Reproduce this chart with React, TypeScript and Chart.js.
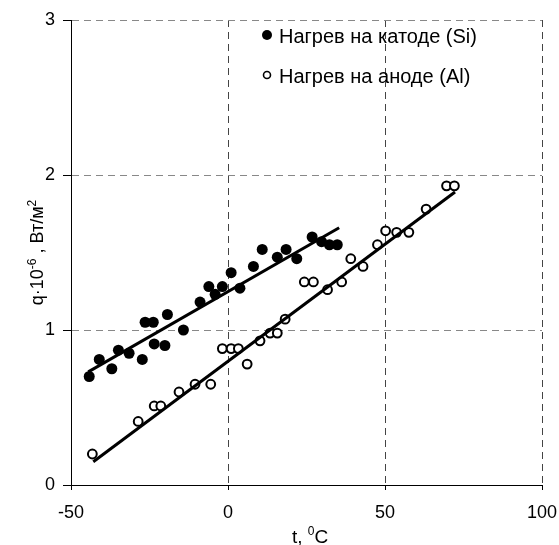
import React, { useEffect, useRef } from "react";
import { Chart, registerables } from "chart.js";

Chart.register(...registerables);

// Нагрев на катоде (Si) — filled points
const siT = [-44.2, -41.0, -37.0, -34.9, -31.5, -27.3, -26.4, -23.8, -23.5, -20.1, -19.3, -14.2, -8.9, -6.1, -4.1, -1.8, 1.0, 3.8, 8.1, 10.9, 15.7, 18.5, 21.9, 26.8, 29.8, 32.3, 34.8];
const siQ = [0.70, 0.81, 0.75, 0.87, 0.85, 0.81, 1.05, 1.05, 0.91, 0.90, 1.10, 1.00, 1.18, 1.28, 1.23, 1.28, 1.37, 1.27, 1.41, 1.52, 1.47, 1.52, 1.46, 1.60, 1.57, 1.55, 1.55];

// Нагрев на аноде (Al) — hollow points
const alT = [-43.2, -28.6, -23.5, -21.4, -15.6, -10.5, -5.5, -1.8, 1.0, 3.3, 6.1, 10.2, 13.4, 15.7, 18.2, 24.3, 27.2, 31.7, 36.2, 39.1, 43.0, 47.6, 50.2, 53.7, 57.6, 63.1, 69.6, 72.1];
const alQ = [0.20, 0.41, 0.51, 0.51, 0.60, 0.65, 0.65, 0.88, 0.88, 0.88, 0.78, 0.93, 0.98, 0.98, 1.07, 1.31, 1.31, 1.26, 1.31, 1.46, 1.41, 1.55, 1.64, 1.63, 1.63, 1.78, 1.93, 1.93];

// Linear trend lines (end points)
const siFitT = [-44.5, 35.4];
const siFitQ = [0.73, 1.66];
const alFitT = [-42.9, 72.3];
const alFitQ = [0.15, 1.89];

const xTicks = [-50, 0, 50, 100];
const yTicks = [0, 1, 2, 3];
const legendLabels = ["Нагрев на катоде (Si)", "Нагрев на аноде (Al)"];

const FONT = "'Liberation Sans', Arial, sans-serif";

const pts = (xs: number[], ys: number[]) => xs.map((x, i) => ({ x, y: ys[i] }));

function drawParts(ctx: CanvasRenderingContext2D, parts: { t: string; sup?: boolean }[], size: number, supSize: number, supRise: number, cx: number, baseline: number) {
  const widths = parts.map((p) => {
    ctx.font = `${p.sup ? supSize : size}px ${FONT}`;
    return ctx.measureText(p.t).width;
  });
  const total = widths.reduce((a, b) => a + b, 0);
  let x = cx - total / 2;
  parts.forEach((p, i) => {
    ctx.font = `${p.sup ? supSize : size}px ${FONT}`;
    ctx.fillText(p.t, x, p.sup ? baseline - supRise : baseline);
    x += widths[i];
  });
}

const annotations = {
  id: "annotations",
  afterDraw(chart: any) {
    const ctx: CanvasRenderingContext2D = chart.ctx;
    const area = chart.chartArea;
    ctx.save();
    ctx.fillStyle = "#000";
    ctx.textAlign = "left";
    ctx.textBaseline = "alphabetic";

    // x title
    drawParts(ctx, [{ t: "t, " }, { t: "0", sup: true }, { t: "C" }], 19, 12, 8, 310, 543);

    // y title
    ctx.save();
    ctx.translate(43, (area.top + area.bottom) / 2);
    ctx.rotate(-Math.PI / 2);
    drawParts(ctx, [{ t: "q·10" }, { t: "-6", sup: true }, { t: " , Вт/м" }, { t: "2", sup: true }], 18, 12, 7, 0, 0);
    ctx.restore();

    // legend
    ctx.font = `20px ${FONT}`;
    ctx.beginPath();
    ctx.arc(267, 35, 5, 0, Math.PI * 2);
    ctx.fill();
    ctx.fillText(legendLabels[0], 279, 43);
    ctx.beginPath();
    ctx.arc(267, 75, 3.5, 0, Math.PI * 2);
    ctx.lineWidth = 1.6;
    ctx.strokeStyle = "#000";
    ctx.stroke();
    ctx.fillText(legendLabels[1], 279, 83);
    ctx.restore();
  },
};

export default function App() {
  const ref = useRef<HTMLCanvasElement>(null);
  useEffect(() => {
    if (!ref.current) return;
    const chart = new Chart(ref.current, {
      type: "scatter",
      data: {
        datasets: [
          {
            type: "line",
            data: pts(siFitT, siFitQ),
            borderColor: "#000",
            borderWidth: 3,
            pointRadius: 0,
            order: 0,
          },
          {
            type: "line",
            data: pts(alFitT, alFitQ),
            borderColor: "#000",
            borderWidth: 3,
            pointRadius: 0,
            order: 0,
          },
          {
            data: pts(siT, siQ),
            pointRadius: 5.5,
            pointBackgroundColor: "#000",
            pointBorderColor: "#000",
            pointBorderWidth: 0,
            order: 1,
          },
          {
            data: pts(alT, alQ),
            pointRadius: 4.4,
            pointBackgroundColor: "#fff",
            pointBorderColor: "#000",
            pointBorderWidth: 2,
            order: 2,
          },
        ],
      },
      options: {
        responsive: false,
        animation: false,
        events: [],
        layout: { padding: { top: 20, right: 17, left: 0, bottom: 0 } },
        plugins: { legend: { display: false }, tooltip: { enabled: false } },
        scales: {
          x: {
            type: "linear",
            min: -50,
            max: 100,
            afterBuildTicks: (s: any) => {
              s.ticks = xTicks.map((v) => ({ value: v }));
            },
            afterFit: (s: any) => {
              s.height = 60;
              s.paddingLeft = 0;
              s.paddingRight = 0;
            },
            ticks: { color: "#000", font: { family: FONT, size: 18 }, padding: 12 },
            grid: {
              color: "#444",
              lineWidth: 1,
              tickLength: 5,
              tickColor: "#000",
              tickBorderDash: [],
            },
            border: { display: true, color: "#000", width: 1, dash: [7, 5] },
          },
          y: {
            type: "linear",
            min: 0,
            max: 3,
            afterBuildTicks: (s: any) => {
              s.ticks = yTicks.map((v) => ({ value: v }));
            },
            afterFit: (s: any) => {
              s.width = 71;
              s.paddingTop = 0;
              s.paddingBottom = 0;
            },
            ticks: { color: "#000", font: { family: FONT, size: 18 }, padding: 8 },
            grid: {
              color: "#888",
              lineWidth: 1,
              tickLength: 8,
              tickColor: "#000",
              tickBorderDash: [],
            },
            border: { display: true, color: "#000", width: 1, dash: [7, 5] },
          },
        },
      },
      plugins: [annotations],
    } as any);
    return () => chart.destroy();
  }, []);
  return (
    <div style={{ position: "fixed", left: 0, top: 0, width: 559, height: 545, background: "#fff" }}>
      <canvas ref={ref} width={559} height={545} />
    </div>
  );
}
